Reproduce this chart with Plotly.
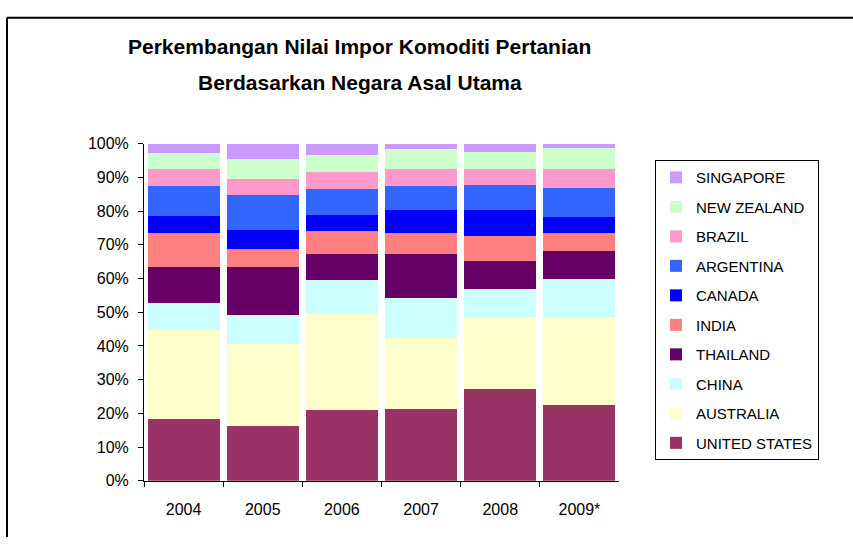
import plotly.graph_objects as go

years = ["2004", "2005", "2006", "2007", "2008", "2009*"]
countries = ["UNITED STATES", "AUSTRALIA", "CHINA", "THAILAND", "INDIA",
             "CANADA", "ARGENTINA", "BRAZIL", "NEW ZEALAND", "SINGAPORE"]

united_states = [18.2, 16.2, 21.1, 21.4, 27.2, 22.6]
australia     = [26.6, 24.5, 28.5, 21.1, 21.3, 25.9]
china         = [8.0, 8.6, 10.1, 11.7, 8.3, 11.5]
thailand      = [10.6, 14.1, 7.5, 13.0, 8.4, 8.3]
india         = [10.2, 5.3, 6.9, 6.3, 7.4, 5.2]
canada        = [4.8, 5.7, 4.6, 6.9, 7.8, 4.6]
argentina     = [8.9, 10.3, 7.8, 6.9, 7.2, 8.7]
brazil        = [5.2, 4.9, 5.1, 5.2, 4.9, 5.7]
new_zealand   = [4.6, 5.8, 4.9, 5.8, 4.9, 6.1]
singapore     = [2.9, 4.6, 3.5, 1.7, 2.6, 1.4]

series = [united_states, australia, china, thailand, india,
          canada, argentina, brazil, new_zealand, singapore]
colors = ["#993366", "#FFFFCC", "#CCFFFF", "#660066", "#FF8080",
          "#0000FF", "#3366FF", "#FF99CC", "#CCFFCC", "#CC99FF"]

W, H = 853, 546
FONT = "Liberation Sans, Arial, sans-serif"
fig = go.Figure()
for i, (name, vals, col) in enumerate(zip(countries, series, colors)):
    fig.add_trace(go.Bar(x=years, y=vals, name=name, legendgroup=name,
                         legendrank=1000 - i,
                         marker=dict(color=col, line=dict(width=0))))

fig.update_layout(
    width=W, height=H,
    margin=dict(l=0, r=0, t=0, b=0),
    paper_bgcolor="white", plot_bgcolor="white",
    barmode="stack", barnorm="percent", bargap=0.09,
    font=dict(family=FONT, size=16, color="black"),
    showlegend=True,
    legend=dict(x=655 / W, y=1 - 157 / H, xanchor="left", yanchor="top",
                traceorder="grouped", bordercolor="black", borderwidth=1,
                font=dict(family=FONT, size=15),
                tracegroupgap=7, itemwidth=30, bgcolor="white"),
    xaxis=dict(domain=[144 / W, 619 / W], showline=True, linecolor="black", linewidth=1,
               ticks="outside", tickson="boundaries", ticklen=5, tickcolor="black",
               showgrid=False, ticklabelstandoff=14),
    yaxis=dict(domain=[1 - 488 / H, 1 - 140 / H], range=[0, 100], dtick=10,
               ticksuffix="%", showline=True, linecolor="black", linewidth=1,
               ticks="outside", ticklen=5, tickcolor="black", showgrid=False,
               zeroline=False, ticklabelstandoff=6),
    annotations=[
        dict(text="<b>Perkembangan Nilai Impor Komoditi Pertanian</b>", x=359 / W, y=1 - 40 / H,
             xref="paper", yref="paper", showarrow=False, xanchor="center", yanchor="middle",
             font=dict(family=FONT, size=21)),
        dict(text="<b>Berdasarkan Negara Asal Utama</b>", x=360 / W, y=1 - 77 / H,
             xref="paper", yref="paper", showarrow=False, xanchor="center", yanchor="middle",
             font=dict(family=FONT, size=21)),
    ],
    shapes=[
        dict(type="line", xref="paper", yref="paper", x0=7 / W, x1=1.0, y0=1 - 10 / H, y1=1 - 10 / H,
             line=dict(color="black", width=2)),
        dict(type="line", xref="paper", yref="paper", x0=7 / W, x1=7 / W, y0=1 - 10 / H, y1=0,
             line=dict(color="black", width=2)),
    ],
)

fig.write_html("out.html", config={"displayModeBar": False},
               post_script="document.body.style.margin='0px';")
